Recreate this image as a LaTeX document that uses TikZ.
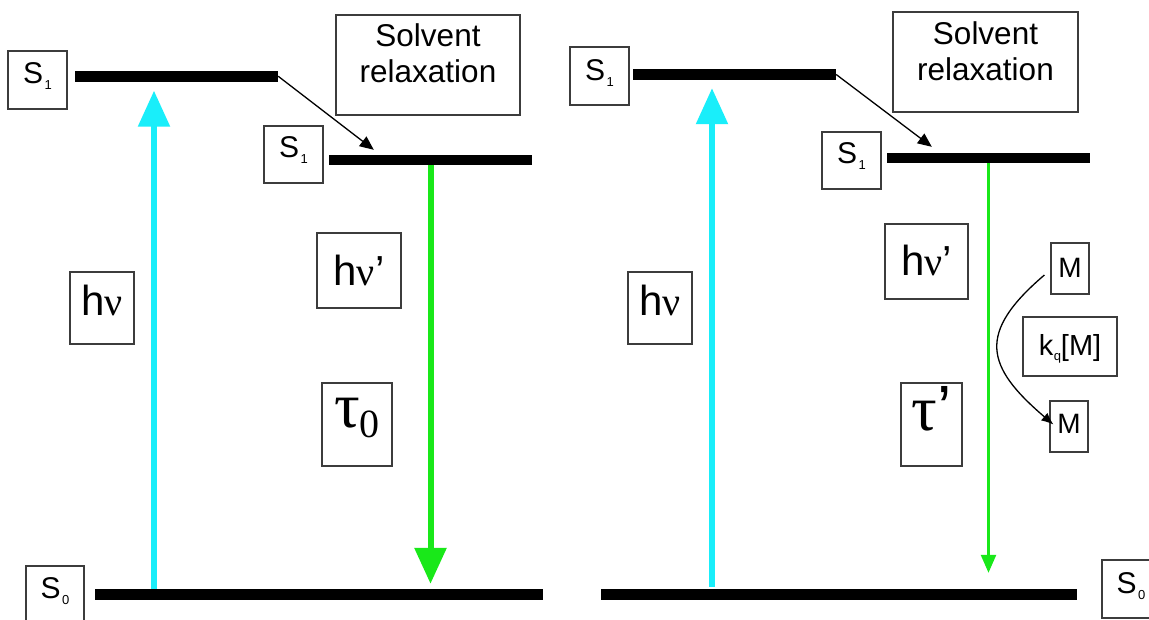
\documentclass[tikz,border=0pt]{standalone}
\usepackage{fontspec}
\setmainfont{Liberation Sans}
\newfontfamily\grk{Liberation Serif}
\usetikzlibrary{arrows.meta,calc}
\definecolor{cyanc}{RGB}{25,238,250}
\definecolor{greenc}{RGB}{25,232,25}
\definecolor{boxc}{RGB}{60,60,60}
\newcommand\myfs[1]{\fontsize{#1}{#1}\selectfont}
\newcommand\Sx[1]{S\kern1.5pt\raisebox{-6pt}{\myfs{13}#1}}
\tikzset{
  lbl/.style={draw=boxc, line width=1.2pt, inner sep=0pt, anchor=center},
  levelbar/.style={fill=black, draw=none, inner sep=0pt, anchor=center},
  soltext/.style={anchor=north, align=center, inner sep=0pt, font=\fontsize{31.5}{36}\selectfont},
  relax/.style={-{Triangle[length=14pt,width=12pt]}, line width=1.3pt},
  absorb/.style={-{Triangle[length=36pt,width=31pt]}, line width=5.5pt, draw=cyanc, fill=cyanc},
  emitthick/.style={-{Triangle[length=36pt,width=31pt]}, line width=6pt, draw=greenc, fill=greenc},
  emitthin/.style={-{Triangle[length=18pt,width=15pt]}, line width=2.5pt, draw=greenc, fill=greenc},
  quench/.style={-{Latex[length=12pt,width=10pt]}, line width=1.3pt}
}
\begin{document}
\begin{tikzpicture}[x=1pt,y=-1pt]
\fill[white] (0,0) rectangle (1149,619);
\useasboundingbox (0,0) rectangle (1149,619);

% ---------------- left panel ----------------
\node[levelbar, minimum width=203pt, minimum height=10.5pt] (bar1a) at (176.5,76.25) {};
\node[levelbar, minimum width=203pt, minimum height=10pt] (bar2a) at (430.5,160) {};
\node[levelbar, minimum width=448pt, minimum height=11pt] (bar0a) at (319,594.5) {};

\node[lbl, minimum width=59pt, text height=32pt, text depth=26pt, font=\myfs{30}] (s1a) at (37.5,80) {\Sx{1}};
\node[lbl, minimum width=59pt, text height=31pt, text depth=26pt, font=\myfs{30}] (s1b) at (293.5,154.5) {\Sx{1}};
\node[lbl, minimum width=58pt, text height=32pt, text depth=27pt, font=\myfs{30}] (s0a) at (55,595.5) {\Sx{0}};
\node[lbl, minimum width=64pt, text height=43pt, text depth=29pt, font=\myfs{42}] (hva) at (102,308) {h{\grk\myfs{40}ν}};
\node[lbl, minimum width=84pt, text height=52pt, text depth=23pt, font=\myfs{42}] (hvpa) at (359,270.5) {h{\grk\myfs{40}ν}’};
\node[lbl, minimum width=70pt, text height=44pt, text depth=39pt, font=\myfs{64}] (taua) at (357,424.5) {{\grk τ\raisebox{-10pt}{\myfs{40}0}}};
\node[lbl, minimum width=184pt, minimum height=100pt] (sola) at (428,65) {};
\node[soltext] (solat) at ($(sola.north)+(0,9)$) {Solvent\\relaxation};

\draw[relax] (bar1a.east) -- ($(bar2a.north west)+(45,-5)$);
\coordinate (cxa) at (154,0);
\draw[absorb] (bar0a.north -| cxa) -- ($(bar1a.south -| cxa)+(0,9)$);
\draw[emitthick] (bar2a.south) -- ($(bar2a.south |- bar0a.north)+(0,-5)$);

% ---------------- right panel ----------------
\node[levelbar, minimum width=203pt, minimum height=11pt] (bar1c) at (734.5,74.5) {};
\node[levelbar, minimum width=203pt, minimum height=10pt] (bar2c) at (988.5,158) {};
\node[levelbar, minimum width=476pt, minimum height=11pt] (bar0c) at (839,594.5) {};

\node[lbl, minimum width=59pt, text height=33pt, text depth=25pt, font=\myfs{30}] (s1c) at (599.5,76) {\Sx{1}};
\node[lbl, minimum width=59pt, text height=31pt, text depth=26pt, font=\myfs{30}] (s1d) at (851.5,160.5) {\Sx{1}};
\node[lbl, minimum width=58pt, text height=33pt, text depth=25pt, font=\myfs{30}] (s0c) at (1131,589) {\Sx{0}};
\node[lbl, minimum width=64pt, text height=43pt, text depth=29pt, font=\myfs{42}] (hvc) at (660,308) {h{\grk\myfs{40}ν}};
\node[lbl, minimum width=83pt, text height=51pt, text depth=24pt, font=\myfs{42}] (hvpc) at (926.5,261.5) {h{\grk\myfs{40}ν}’};
\node[lbl, minimum width=61pt, text height=47pt, text depth=36pt, font=\myfs{64}] (tauc) at (931.5,424.5) {{\grk τ}’};
\node[lbl, minimum width=38pt, text height=34pt, text depth=17pt, font=\myfs{28}] (mtop) at (1070,268.5) {M};
\node[lbl, minimum width=94pt, text height=38pt, text depth=21pt, font=\myfs{29}] (kq) at (1070,346.5) {k\kern0.5pt\raisebox{-5pt}{\myfs{13}q}[M]};
\node[lbl, minimum width=38pt, text height=32pt, text depth=19pt, font=\myfs{28}] (mbot) at (1069,426.5) {M};
\node[lbl, minimum width=185pt, minimum height=100pt] (solc) at (985.5,62) {};
\node[soltext] (solct) at ($(solc.north)+(0,10)$) {Solvent\\relaxation};

\draw[relax] (bar1c.east) -- ($(bar2c.north west)+(45,-6)$);
\coordinate (cxc) at (712,0);
\draw[absorb] ($(bar0c.north -| cxc)+(0,-2)$) -- ($(bar1c.south -| cxc)+(0,8)$);
\draw[emitthin] (bar2c.south) -- ($(bar2c.south |- bar0c.north)+(0,-16)$);
\draw[quench] ($(mtop.west)+(-6,6.5)$) .. controls +(-68,58) and +(-68,-58) .. ($(mbot.west)+(4,-2)$);
\end{tikzpicture}
\end{document}
